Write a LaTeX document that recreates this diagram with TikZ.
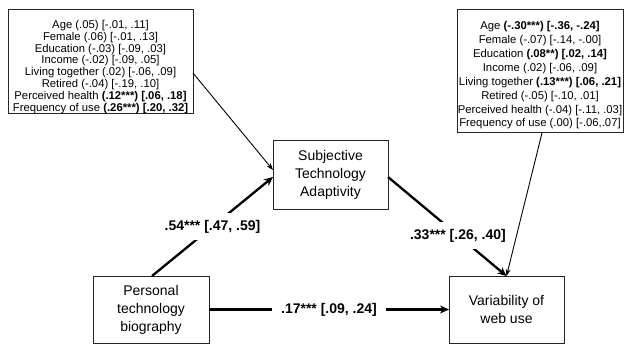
\documentclass[tikz,border=0pt]{standalone}
\usepackage{fontspec}
\setmainfont{Liberation Sans}
\usetikzlibrary{arrows.meta,calc}
\begin{document}
\begin{tikzpicture}[x=1pt,y=-1pt,
  covbox/.style={draw=black!85, line width=1pt, inner sep=0pt, outer sep=0pt, align=center},
  covfontL/.style={font=\fontsize{11.3}{11.8}\selectfont},
  covfontR/.style={font=\fontsize{11.3}{13.9}\selectfont},
  mainbox/.style={draw=black!85, line width=1pt, inner sep=0pt, outer sep=0pt, align=center,
    font=\fontsize{14}{18}\selectfont, minimum width=115pt, minimum height=67pt},
  patharrow/.style={line width=2.3pt, -{Stealth[length=9pt,width=8pt]}},
  covarrow/.style={line width=0.9pt, -{Stealth[length=7pt,width=5pt]}},
  coef/.style={fill=white, font=\fontsize{14}{16}\selectfont\bfseries, inner xsep=9pt, inner ysep=7pt}]
\useasboundingbox (0,0) rectangle (625,345);
\fill[white] (0,0) rectangle (625,345);

\node[covbox, covfontL, minimum width=185pt, minimum height=104pt] (covL) at (100.5,62) {%
\rule{0pt}{18pt}Age (.05) [-.01, .11]\\
Female (.06) [-.01, .13]\\
Education (-.03) [-.09, .03]\\
Income (-.02) [-.09, .05]\\
Living together (.02) [-.06, .09]\\
Retired (-.04) [-.19, .10]\\
Perceived health \textbf{(.12***) [.06, .18]}\\
Frequency of use \textbf{(.26***) [.20, .32]}};

\node[covbox, covfontR, minimum width=166pt, minimum height=123pt] (covR) at (540,71.5) {%
\rule{0pt}{16pt}Age \textbf{(-.30***) [-.36, -.24]}\\
Female (-.07) [-.14, -.00]\\
Education \textbf{(.08**) [.02, .14]}\\
Income (.02) [-.06, .09]\\
Living together \textbf{(.13***) [.06, .21]}\\
Retired (-.05) [-.10, .01]\\
Perceived health (-.04) [-.11, .03]\\
Frequency of use (.00) [-.06,.07]};

\node[mainbox, minimum width=115pt, minimum height=68pt] (subj) at (330.5,175) {Subjective\\Technology\\Adaptivity};
\node[mainbox, minimum width=116pt] (pers) at (151,309.5) {Personal\\technology\\biography};
\node[mainbox] (vari) at (506.5,309.5) {Variability of\\web use};

\draw[patharrow] ([xshift=1pt]pers.north) -- node[coef, pos=0.5] {.54*** [.47, .59]} ([yshift=-2pt]subj.west);
\draw[patharrow] ([yshift=-2pt]subj.east) -- node[coef, pos=0.59] {.33*** [.26, .40]} (vari.north);
\draw[patharrow] (pers.east) -- node[coef] {.17*** [.09, .24]} (vari.west);

\draw[covarrow] ([yshift=-11pt]covL.east) -- ([yshift=5pt]subj.west);
\draw[covarrow] ([xshift=2pt]covR.south) -- (vari.north);
\end{tikzpicture}
\end{document}
